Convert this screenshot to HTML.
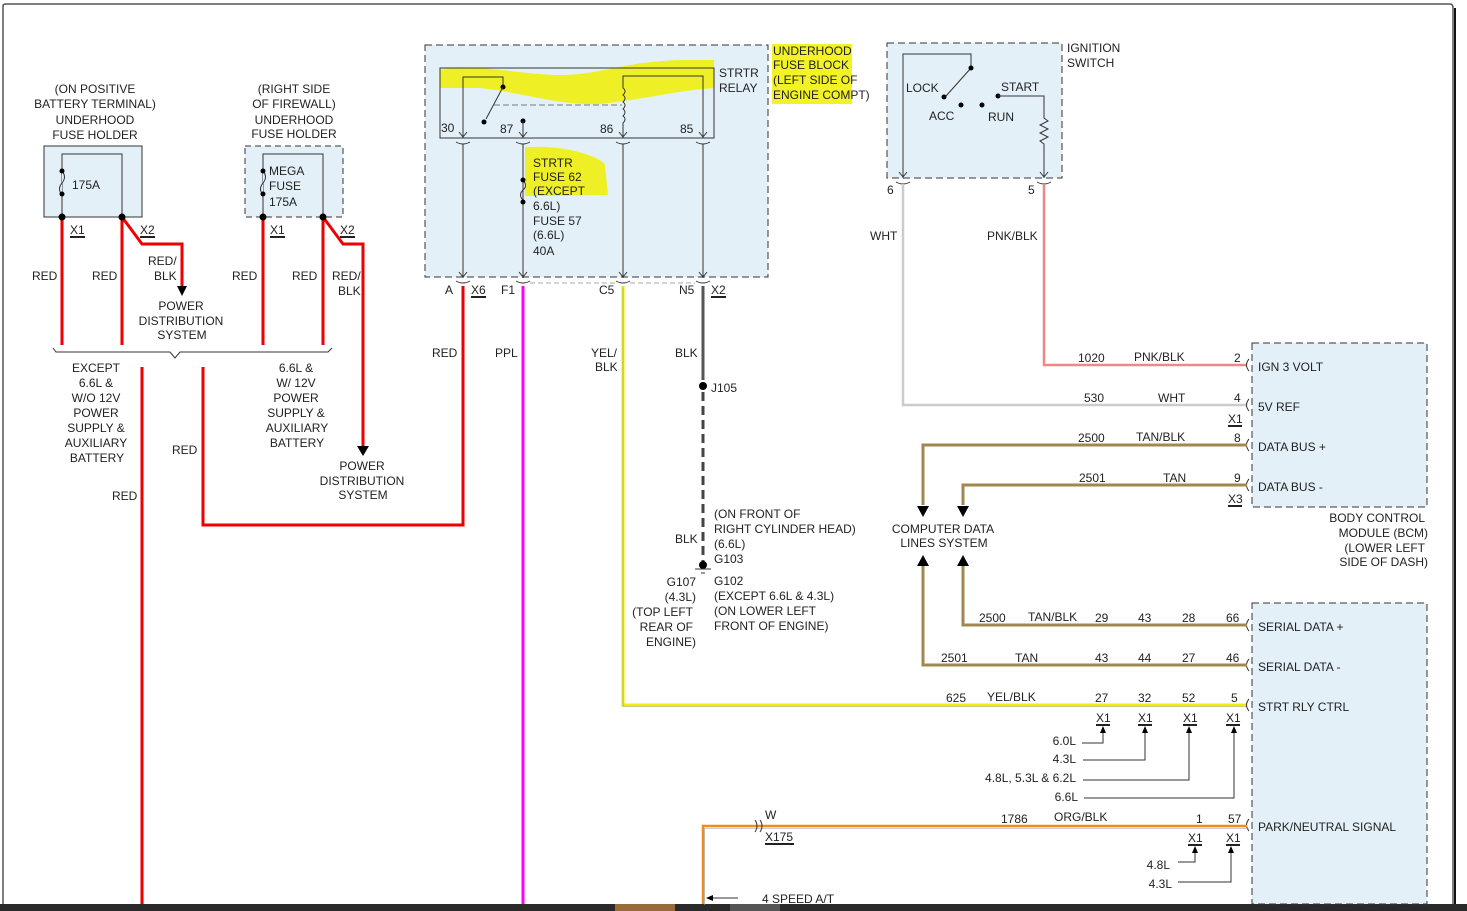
<!DOCTYPE html>
<html><head><meta charset="utf-8">
<style>
html,body{margin:0;padding:0;background:#fff;}
svg{display:block;}
text{font-family:"Liberation Sans",Arial,sans-serif;font-size:12px;fill:#222;}
</style></head><body>
<svg width="1467" height="911" viewBox="0 0 1467 911" xmlns="http://www.w3.org/2000/svg">
<defs>
<marker id="ad" markerWidth="10" markerHeight="10" refX="5" refY="9" orient="auto" markerUnits="userSpaceOnUse"><path d="M0,0 L10,0 L5,10z" fill="#000"/></marker>
</defs>
<rect x="0" y="0" width="1467" height="911" fill="#fff"/>
<!-- frame -->
<path d="M3,911 V6 Q3,4 6,4 H1450 Q1453,4 1453,8 V904" fill="none" stroke="#555" stroke-width="1.5"/>
<line x1="1455" y1="8" x2="1455" y2="904" stroke="#111" stroke-width="2"/>
<rect x="0" y="904" width="1467" height="7" fill="#2a2a2a"/>
<rect x="615" y="904" width="60" height="7" fill="#9a6a3a"/>
<rect x="730" y="904" width="50" height="7" fill="#555"/>

<!-- Box1 -->
<rect x="44" y="146" width="98" height="71" fill="#e4f0f8" stroke="#333" stroke-width="1"/>
<path d="M62,217 V154 H122 V217" fill="none" stroke="#333"/>
<path d="M62,171 q5,6 0,12 q-5,6 0,12" fill="#e4f0f8" stroke="#333"/>
<circle cx="62" cy="171" r="2.5"/><circle cx="62" cy="194" r="2.5"/>
<text x="72" y="189">175A</text>
<text x="95" y="93" text-anchor="middle">(ON POSITIVE</text>
<text x="95" y="108" text-anchor="middle">BATTERY TERMINAL)</text>
<text x="95" y="124" text-anchor="middle">UNDERHOOD</text>
<text x="95" y="139" text-anchor="middle">FUSE HOLDER</text>
<!-- Box2 -->
<rect x="245" y="146" width="98" height="71" fill="#e4f0f8" stroke="#333" stroke-dasharray="6,4"/>
<path d="M263,217 V154 H323 V217" fill="none" stroke="#333"/>
<path d="M263,171 q5,6 0,12 q-5,6 0,12" fill="#e4f0f8" stroke="#333"/>
<circle cx="263" cy="171" r="2.5"/><circle cx="263" cy="194" r="2.5"/>
<text x="269" y="175">MEGA</text><text x="269" y="190">FUSE</text><text x="269" y="206">175A</text>
<text x="294" y="93" text-anchor="middle">(RIGHT SIDE</text>
<text x="294" y="108" text-anchor="middle">OF FIREWALL)</text>
<text x="294" y="124" text-anchor="middle">UNDERHOOD</text>
<text x="294" y="138" text-anchor="middle">FUSE HOLDER</text>

<!-- red wires left -->
<g stroke="#e00" stroke-width="3" fill="none">
<line x1="62" y1="217" x2="62" y2="345"/>
<line x1="122" y1="217" x2="122" y2="345"/>
<path d="M122,217 L142,244 H182 V286"/>
<line x1="263" y1="217" x2="263" y2="345"/>
<line x1="323" y1="217" x2="323" y2="345"/>
<path d="M323,217 L343,244 H363 V446"/>
<line x1="142" y1="367" x2="142" y2="904"/>
<path d="M203,367 V525 H463 V286"/>
</g>
<path d="M177,286 H187 L182,296z" fill="#000"/>
<path d="M357,446 H369 L363,456z" fill="#000"/>
<circle cx="62" cy="217" r="3.5"/><circle cx="122" cy="217" r="3.5"/>
<circle cx="263" cy="217" r="3.5"/><circle cx="323" cy="217" r="3.5"/>
<text x="70" y="234">X1</text><line x1="70" y1="237" x2="85" y2="237" stroke="#222" stroke-width="2"/>
<text x="140" y="234">X2</text><line x1="140" y1="237" x2="155" y2="237" stroke="#222" stroke-width="2"/>
<text x="270" y="234">X1</text><line x1="270" y1="237" x2="285" y2="237" stroke="#222" stroke-width="2"/>
<text x="340" y="234">X2</text><line x1="340" y1="237" x2="355" y2="237" stroke="#222" stroke-width="2"/>
<text x="32" y="280">RED</text><text x="92" y="280">RED</text>
<text x="148" y="265">RED/</text><text x="154" y="280">BLK</text>
<text x="232" y="280">RED</text><text x="292" y="280">RED</text>
<text x="332" y="280">RED/</text><text x="338" y="295">BLK</text>
<text x="181" y="310" text-anchor="middle">POWER</text>
<text x="181" y="325" text-anchor="middle">DISTRIBUTION</text>
<text x="182" y="339" text-anchor="middle">SYSTEM</text>
<path d="M53,348 L56,352 H170 L175,358 L180,352 H328 L332,348" fill="none" stroke="#333"/>
<g text-anchor="middle">
<text x="96" y="372">EXCEPT</text><text x="96" y="387">6.6L &amp;</text><text x="96" y="402">W/O 12V</text>
<text x="96" y="417">POWER</text><text x="96" y="432">SUPPLY &amp;</text><text x="96" y="447">AUXILIARY</text><text x="97" y="462">BATTERY</text>
<text x="296" y="372">6.6L &amp;</text><text x="296" y="387">W/ 12V</text><text x="296" y="402">POWER</text>
<text x="296" y="417">SUPPLY &amp;</text><text x="297" y="432">AUXILIARY</text><text x="297" y="447">BATTERY</text>
<text x="362" y="470">POWER</text><text x="362" y="485">DISTRIBUTION</text><text x="363" y="499">SYSTEM</text>
</g>
<text x="172" y="454">RED</text><text x="112" y="500">RED</text>

<!-- Fuse block -->
<rect x="425" y="45" width="343" height="232" fill="#e4f0f8" stroke="#333" stroke-dasharray="7,4"/>
<path d="M440,70 C470,62 520,75 560,75 C600,75 620,62 680,60 L714,60 L714,88 C680,90 640,100 600,104 C560,106 520,92 480,88 L440,88z" fill="#f0f000" opacity="0.85"/>
<path d="M530,147 C560,145 600,155 605,165 L608,195 L540,196 L525,196 L525,147z" fill="#f0f000" opacity="0.85"/>
<rect x="772" y="44" width="80" height="60" fill="#f0f000" opacity="0.85"/>
<rect x="440" y="68" width="274" height="70" fill="none" stroke="#333"/>
<path d="M463,138 V77 H503 V87" fill="none" stroke="#333"/>
<circle cx="503" cy="87" r="2.5"/><circle cx="484" cy="122" r="2.5"/>
<line x1="503" y1="87" x2="486" y2="119" stroke="#333"/>
<line x1="494" y1="105" x2="622" y2="105" stroke="#777" stroke-dasharray="6,3"/>
<circle cx="523" cy="121" r="2.5"/>
<line x1="523" y1="121" x2="523" y2="138" stroke="#333"/>
<path d="M703,138 V76 H623 V88 q4,3 0,7 q4,3 0,7 q4,3 0,7 q4,3 0,7 q4,3 0,7 V138" fill="none" stroke="#333"/>
<text x="441" y="132">30</text><text x="500" y="133">87</text><text x="600" y="133">86</text><text x="680" y="133">85</text>
<g stroke="#333" fill="none">
<path d="M459,132 l4,5 l4,-5 M519,132 l4,5 l4,-5 M619,132 l4,5 l4,-5 M699,132 l4,5 l4,-5"/>
<path d="M456,142 q7,4 14,0 M516,142 q7,4 14,0 M616,142 q7,4 14,0 M696,142 q7,4 14,0"/>
<line x1="463" y1="144" x2="463" y2="278"/><line x1="523" y1="144" x2="523" y2="278"/>
<line x1="623" y1="144" x2="623" y2="278"/><line x1="703" y1="144" x2="703" y2="278"/>
<path d="M459,272 l4,5 l4,-5 M519,272 l4,5 l4,-5 M619,272 l4,5 l4,-5 M699,272 l4,5 l4,-5"/>
<path d="M456,281 q7,4 14,0 M516,281 q7,4 14,0 M616,281 q7,4 14,0 M696,281 q7,4 14,0"/>
</g>
<path d="M523,180 q5,6 0,10 q-5,5 0,10" fill="none" stroke="#333"/>
<circle cx="523" cy="180" r="2.5"/><circle cx="523" cy="202" r="2.5"/>
<text x="533" y="167">STRTR</text><text x="533" y="181">FUSE 62</text><text x="533" y="195">(EXCEPT</text>
<text x="533" y="210">6.6L)</text><text x="533" y="225">FUSE 57</text><text x="533" y="239">(6.6L)</text><text x="533" y="255">40A</text>
<text x="719" y="77">STRTR</text><text x="719" y="92">RELAY</text>
<text x="773" y="55">UNDERHOOD</text><text x="773" y="69">FUSE BLOCK</text><text x="773" y="84">(LEFT SIDE OF</text><text x="773" y="99">ENGINE COMPT)</text>
<text x="445" y="294">A</text><text x="471" y="294">X6</text><line x1="471" y1="297" x2="486" y2="297" stroke="#222" stroke-width="2"/>
<text x="501" y="294">F1</text><text x="599" y="294">C5</text><text x="679" y="294">N5</text>
<text x="711" y="294">X2</text><line x1="711" y1="297" x2="726" y2="297" stroke="#222" stroke-width="2"/>
<line x1="530" y1="283" x2="615" y2="283" stroke="#aaa" stroke-dasharray="5,3"/>
<line x1="630" y1="283" x2="695" y2="283" stroke="#aaa" stroke-dasharray="5,3"/>

<!-- lower wires center -->
<line x1="523" y1="286" x2="523" y2="904" stroke="#f0f" stroke-width="3"/>
<path d="M623,286 V705 H1247" fill="none" stroke="#ee0" stroke-width="3"/>
<path d="M623,286 V705 H1247" fill="none" stroke="#999" stroke-width="0.6" transform="translate(0,1.5)"/>
<line x1="703" y1="286" x2="703" y2="380" stroke="#555" stroke-width="3"/>
<line x1="703" y1="392" x2="703" y2="565" stroke="#444" stroke-width="3" stroke-dasharray="9,5"/>
<circle cx="703" cy="386" r="4"/>
<circle cx="703" cy="565" r="4"/>
<line x1="695" y1="569" x2="711" y2="569" stroke="#333"/><line x1="701" y1="573" x2="705" y2="573" stroke="#333"/>
<text x="432" y="357">RED</text><text x="495" y="357">PPL</text>
<text x="591" y="357">YEL/</text><text x="595" y="371">BLK</text>
<text x="675" y="357">BLK</text><text x="711" y="392">J105</text>
<text x="675" y="543">BLK</text>
<text x="714" y="518">(ON FRONT OF</text><text x="714" y="533">RIGHT CYLINDER HEAD)</text>
<text x="714" y="548">(6.6L)</text><text x="714" y="563">G103</text>
<text x="714" y="585">G102</text><text x="714" y="600">(EXCEPT 6.6L &amp; 4.3L)</text>
<text x="714" y="615">(ON LOWER LEFT</text><text x="714" y="630">FRONT OF ENGINE)</text>
<g text-anchor="end"><text x="696" y="586">G107</text><text x="696" y="601">(4.3L)</text>
<text x="693" y="616">(TOP LEFT</text><text x="693" y="631">REAR OF</text><text x="696" y="646">ENGINE)</text></g>

<!-- Ignition switch -->
<rect x="887" y="43" width="175" height="135" fill="#e4f0f8" stroke="#333" stroke-dasharray="7,4"/>
<path d="M903,178 V54 H971 V68 L946,96" fill="none" stroke="#333"/>
<circle cx="971" cy="68" r="2.5"/><circle cx="944" cy="97" r="2.5"/>
<circle cx="961" cy="105" r="2.5"/><circle cx="982" cy="105" r="2.5"/><circle cx="998" cy="96" r="2.5"/>
<path d="M998,96 H1044 V118 l4,3 l-8,4 l8,4 l-8,4 l8,4 l-8,4 l4,3 V178" fill="none" stroke="#333"/>
<path d="M899,172 l4,5 l4,-5 M1040,172 l4,5 l4,-5" stroke="#333" fill="none"/>
<path d="M896,182 q7,4 14,0 M1037,182 q7,4 14,0" stroke="#333" fill="none"/>
<text x="906" y="92">LOCK</text><text x="929" y="120">ACC</text><text x="988" y="121">RUN</text><text x="1001" y="91">START</text>
<text x="1067" y="52">IGNITION</text><text x="1067" y="67">SWITCH</text>
<text x="887" y="194">6</text><text x="1028" y="194">5</text>
<path d="M903,184 V405 H1247" fill="none" stroke="#ccc" stroke-width="2.5"/>
<path d="M1044,184 V365 H1247" fill="none" stroke="#e88" stroke-width="2.5"/>
<text x="870" y="240">WHT</text><text x="987" y="240">PNK/BLK</text>

<!-- BCM -->
<rect x="1252" y="343" width="175" height="164" fill="#e4f0f8" stroke="#333" stroke-dasharray="7,4"/>
<rect x="1252" y="603" width="175" height="301" fill="#e4f0f8" stroke="#333" stroke-dasharray="7,4"/>
<g stroke="#333" fill="none">
<path d="M1249,359 q-5,6 0,12 M1249,399 q-5,6 0,12 M1249,439 q-5,6 0,12 M1249,479 q-5,6 0,12 M1249,619 q-5,6 0,12 M1249,659 q-5,6 0,12 M1249,699 q-5,6 0,12 M1249,819 q-5,6 0,12"/>
</g>
<path d="M923,505 V445 H1247" fill="none" stroke="#a08850" stroke-width="3"/>
<path d="M963,505 V485 H1247" fill="none" stroke="#a08850" stroke-width="3"/>
<path d="M917,506 H929 L923,517z M957,506 H969 L963,517z" fill="#000"/>
<path d="M917,566 H929 L923,555z M957,566 H969 L963,555z" fill="#000"/>
<path d="M963,566 V625 H1247" fill="none" stroke="#a08850" stroke-width="3"/>
<path d="M923,566 V665 H1247" fill="none" stroke="#a08850" stroke-width="3"/>
<text x="943" y="533" text-anchor="middle">COMPUTER DATA</text><text x="944" y="547" text-anchor="middle">LINES SYSTEM</text>
<text x="1078" y="362">1020</text><text x="1134" y="361">PNK/BLK</text><text x="1234" y="362">2</text>
<text x="1084" y="402">530</text><text x="1158" y="402">WHT</text><text x="1234" y="402">4</text>
<text x="1228" y="423">X1</text><line x1="1228" y1="426" x2="1242" y2="426" stroke="#222" stroke-width="2"/>
<text x="1078" y="442">2500</text><text x="1136" y="441">TAN/BLK</text><text x="1234" y="442">8</text>
<text x="1079" y="482">2501</text><text x="1163" y="482">TAN</text><text x="1234" y="482">9</text>
<text x="1228" y="503">X3</text><line x1="1228" y1="506" x2="1242" y2="506" stroke="#222" stroke-width="2"/>
<text x="1258" y="371">IGN 3 VOLT</text><text x="1258" y="411">5V REF</text>
<text x="1258" y="451">DATA BUS +</text><text x="1258" y="491">DATA BUS -</text>
<g text-anchor="end"><text x="1425" y="522">BODY CONTROL</text><text x="1428" y="537">MODULE (BCM)</text>
<text x="1425" y="552">(LOWER LEFT</text><text x="1428" y="566">SIDE OF DASH)</text></g>

<text x="979" y="622">2500</text><text x="1028" y="621">TAN/BLK</text><text x="1095" y="622">29</text><text x="1138" y="622">43</text><text x="1182" y="622">28</text><text x="1226" y="622">66</text>
<text x="941" y="662">2501</text><text x="1015" y="662">TAN</text><text x="1095" y="662">43</text><text x="1138" y="662">44</text><text x="1182" y="662">27</text><text x="1226" y="662">46</text>
<text x="946" y="702">625</text><text x="987" y="701">YEL/BLK</text><text x="1095" y="702">27</text><text x="1138" y="702">32</text><text x="1182" y="702">52</text><text x="1231" y="702">5</text>
<text x="1258" y="631">SERIAL DATA +</text><text x="1258" y="671">SERIAL DATA -</text><text x="1258" y="711">STRT RLY CTRL</text>
<g stroke="#222" stroke-width="2">
<line x1="1096" y1="725" x2="1110" y2="725"/><line x1="1138" y1="725" x2="1152" y2="725"/>
<line x1="1183" y1="725" x2="1197" y2="725"/><line x1="1226" y1="725" x2="1240" y2="725"/>
<line x1="1188" y1="845" x2="1202" y2="845"/><line x1="1226" y1="845" x2="1240" y2="845"/>
</g>
<text x="1096" y="722">X1</text><text x="1138" y="722">X1</text><text x="1183" y="722">X1</text><text x="1226" y="722">X1</text>
<g stroke="#333" fill="none">
<path d="M1082,743 H1103 V730"/><path d="M1083,760 H1145 V730"/><path d="M1083,780 H1189 V730"/><path d="M1084,798 H1234 V730"/>
<path d="M1178,862 H1195 V850"/><path d="M1178,882 H1231 V850"/>
</g>
<path d="M1100,733 L1103,726 L1106,733z M1142,733 L1145,726 L1148,733z M1186,733 L1189,726 L1192,733z M1231,733 L1234,726 L1237,733z M1192,853 L1195,846 L1198,853z M1228,853 L1231,846 L1234,853z" fill="#000"/>
<g text-anchor="end"><text x="1076" y="745">6.0L</text><text x="1076" y="763">4.3L</text><text x="1076" y="782">4.8L, 5.3L &amp; 6.2L</text><text x="1078" y="801">6.6L</text>
<text x="1170" y="869">4.8L</text><text x="1172" y="888">4.3L</text></g>
<text x="1188" y="842">X1</text><text x="1226" y="842">X1</text>

<!-- orange -->
<path d="M703,904 V826 H1247" fill="none" stroke="#f08c1c" stroke-width="2.5"/>
<path d="M703,904 V827.5 H1247" fill="none" stroke="#999" stroke-width="0.6" transform="translate(1.5,1)"/>
<path d="M755,820 q4,6 0,12 M760,820 q4,6 0,12" stroke="#333" fill="none"/>
<text x="765" y="819">W</text>
<text x="765" y="841">X175</text><line x1="765" y1="844" x2="794" y2="844" stroke="#222" stroke-width="2"/>
<text x="1001" y="823">1786</text><text x="1054" y="821">ORG/BLK</text><text x="1196" y="823">1</text><text x="1228" y="823">57</text>
<text x="1258" y="831">PARK/NEUTRAL SIGNAL</text>
<line x1="708" y1="898" x2="738" y2="898" stroke="#333"/>
<path d="M706,898 L713,895 L713,901z" fill="#000"/>
<text x="762" y="903">4 SPEED A/T</text>
</svg>
</body></html>
